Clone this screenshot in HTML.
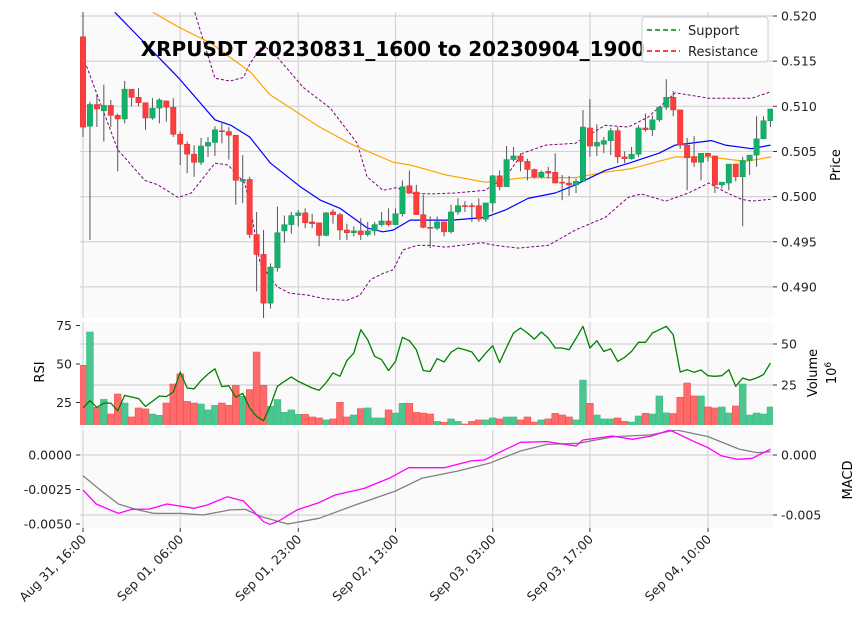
<!DOCTYPE html>
<html><head><meta charset="utf-8">
<style>
body{margin:0;background:#fff;}
svg{display:block;font-family:"DejaVu Sans","Liberation Sans",sans-serif;}
</style></head>
<body>
<svg id="chart" width="864" height="628" viewBox="0 0 864 628" xmlns="http://www.w3.org/2000/svg">
<defs>
<clipPath id="cMain"><rect x="80" y="12" width="693" height="306"/></clipPath>
<clipPath id="cVol"><rect x="80" y="322" width="693" height="103"/></clipPath>
<clipPath id="cMacd"><rect x="80" y="430" width="693" height="98"/></clipPath>
</defs>
<rect x="80" y="12" width="693" height="306" fill="#fafafa"/>
<rect x="80" y="322" width="693" height="103" fill="#fafafa"/>
<rect x="80" y="430" width="693" height="98" fill="#fafafa"/>
<g id="grid"></g>
<g id="marks"></g>
<g id="axes"></g>
<text x="393" y="56" text-anchor="middle" font-size="20" font-weight="bold" fill="#000">XRPUSDT 20230831_1600 to 20230904_1900</text>
<g>
<rect x="642" y="17" width="126" height="45" rx="3" fill="#fff" fill-opacity="0.85" stroke="#ccc"/>
<line x1="647" y1="30" x2="680" y2="30" stroke="green" stroke-width="1.5" stroke-dasharray="5,3"/>
<text x="688" y="35" font-size="13" fill="#222">Support</text>
<line x1="647" y1="51" x2="680" y2="51" stroke="red" stroke-width="1.5" stroke-dasharray="5,3"/>
<text x="688" y="56" font-size="13" fill="#222">Resistance</text>
</g>
<text transform="translate(840,165) rotate(-90)" text-anchor="middle" font-size="13">Price</text>
<text transform="translate(817,373) rotate(-90)" text-anchor="middle" font-size="13">Volume</text>
<text transform="translate(836,373) rotate(-90)" text-anchor="middle" font-size="13">10<tspan dy="-5" font-size="9">6</tspan></text>
<text transform="translate(44,372) rotate(-90)" text-anchor="middle" font-size="13">RSI</text>
<text transform="translate(852,480) rotate(-90)" text-anchor="middle" font-size="13">MACD</text>
</svg>
<script>
const opens=[.5177,.5078,.5102,.5095,.5101,.5090,.5086,.5119,.5110,.5104,.5087,.5098,.5106,.5099,.5069,.5058,.5047,.5038,.5056,.5060,.5073,.5072,.5068,.5017,.5019,.4958,.4936,.4882,.4921,.4962,.4969,.4979,.4982,.4972,.4971,.4957,.4983,.4980,.4963,.4960,.4962,.4958,.4962,.4969,.4973,.4969,.4981,.5012,.5005,.4980,.4966,.4965,.4972,.4961,.4983,.4990,.4990,.4990,.4975,.4993,.5023,.5011,.5041,.5045,.5039,.5030,.5022,.5028,.5027,.5016,.5015,.5013,.5017,.5076,.5056,.5058,.5062,.5073,.5044,.5042,.5047,.5076,.5074,.5085,.5099,.5110,.5096,.5057,.5044,.5038,.5048,.5045,.5013,.5015,.5036,.5022,.5040,.5046,.5064,.5084];
const closes=[.5077,.5102,.5097,.5101,.5090,.5086,.5119,.5110,.5104,.5087,.5098,.5107,.5099,.5069,.5058,.5047,.5038,.5056,.5060,.5074,.5072,.5068,.5018,.5019,.4958,.4936,.4882,.4922,.4960,.4969,.4979,.4982,.4971,.4970,.4957,.4982,.4980,.4963,.4960,.4962,.4958,.4962,.4969,.4973,.4969,.4981,.5011,.5004,.4980,.4966,.4965,.4972,.4961,.4983,.4990,.4989,.4989,.4975,.4993,.5023,.5011,.5041,.5045,.5039,.5030,.5022,.5027,.5026,.5015,.5015,.5013,.5017,.5077,.5056,.5060,.5062,.5073,.5044,.5042,.5047,.5076,.5074,.5085,.5099,.5110,.5096,.5057,.5043,.5038,.5048,.5045,.5013,.5016,.5036,.5022,.5040,.5046,.5064,.5084,.5097];
const highs=[.5225,.5105,.5113,.5124,.5107,.5092,.5128,.5119,.5120,.5103,.5109,.5109,.5105,.5109,.5072,.5061,.5057,.5065,.5066,.5078,.5083,.5077,.5065,.5046,.5022,.4983,.4963,.4926,.4989,.4979,.4983,.4985,.4987,.4981,.4971,.4983,.4986,.4982,.4970,.4967,.4976,.4972,.4972,.4983,.4987,.4987,.5018,.5029,.5013,.5002,.4978,.4978,.4972,.4991,.4998,.4995,.4993,.4998,.4993,.5024,.5029,.5056,.5055,.5048,.5042,.5031,.5029,.5033,.5048,.5024,.5023,.5020,.5096,.5108,.5080,.5066,.5076,.5077,.5050,.5055,.5079,.5092,.5090,.5100,.5130,.5117,.5096,.5065,.5067,.5046,.5046,.5042,.5015,.5035,.5036,.5044,.5042,.5089,.5089,.5096];
const lows=[.5066,.4952,.5077,.5061,.5077,.5028,.5081,.5100,.5100,.5074,.5085,.5081,.5083,.5066,.5035,.5026,.5022,.5035,.5044,.5045,.5059,.5041,.4991,.4993,.4954,.4895,.4865,.4876,.4917,.4949,.4959,.4967,.4965,.4965,.4945,.4956,.4970,.4952,.4952,.4956,.4952,.4956,.4957,.4967,.4967,.4969,.4978,.5004,.4980,.4965,.4943,.4963,.4956,.4959,.4980,.4983,.4972,.4972,.4972,.4983,.5007,.5011,.5039,.5028,.5018,.5020,.5020,.5020,.5015,.4996,.5001,.5004,.5017,.5044,.5045,.5048,.5046,.5037,.5037,.5041,.5044,.5072,.5067,.5083,.5096,.5089,.5053,.5007,.5033,.5018,.5039,.5004,.5009,.5007,.5017,.4967,.5024,.5033,.5065,.5077];
const volumes=[37.0,57.3,11.4,16.2,7.3,19.5,14.0,5.5,11.0,10.4,7.3,6.5,14.0,25.6,31.7,15.0,14.0,13.4,9.8,12.6,14.0,12.6,24.8,18.1,22.2,45.1,24.8,12.0,16.1,8.3,9.8,7.1,7.1,5.5,4.9,3.7,4.3,14.4,5.5,6.7,10.6,11.0,4.9,4.9,9.8,7.9,13.8,13.8,8.3,7.9,7.3,2.8,2.2,4.3,2.8,1.2,2.8,3.7,3.7,4.9,4.3,5.5,5.5,3.7,5.5,2.4,3.7,4.3,7.7,6.7,5.5,3.7,28.0,13.8,6.7,4.3,4.3,4.9,2.8,2.4,6.1,7.7,7.3,18.3,8.0,7.6,17.5,26.2,18.3,18.3,11.6,11.0,11.6,7.9,12.2,25.6,6.7,7.9,7.3,11.6];
const rsiValues=[21.4,26.2,21.9,24.6,24.6,19.7,29.6,28.6,27.5,22.5,25.7,29.2,28.8,31.8,44.8,34.4,33.9,39.2,43.5,46.9,35.3,35.9,28.4,31.0,21.4,16.0,13.2,23.1,35.5,38.7,41.6,38.7,36.6,34.4,32.9,37.7,44.2,42.0,52.2,57.1,72.3,65.8,55.0,52.8,45.7,51.7,67.3,65.1,59.3,45.7,45.2,53.5,51.3,57.6,60.4,59.3,57.8,51.7,57.1,61.9,51.0,60.8,70.1,73.4,70.1,66.2,70.8,66.9,60.4,60.4,59.3,66.6,74.5,60.4,65.1,58.2,59.9,51.7,54.3,58.2,64.1,64.1,70.1,72.3,74.5,69.0,44.8,46.3,44.6,46.1,42.4,42.0,42.4,46.3,35.5,40.9,39.4,40.9,43.1,50.7];
const smaFastIdx=[4.6,8.9,13.7,19,21.3,24,27,31.3,34.2,37,41,43.2,44.7,47.1,50,53.2,57.9,60.8,64.1,68,70.9,75.2,79,82.9,85.3,90.5,92.5,96.3,99];
const smaFastVal=[.5204,.5170,.5132,.5085,.5079,.5066,.5037,.5011,.4996,.4987,.4965,.4961,.4963,.4974,.4974,.4974,.4977,.4985,.4998,.5004,.5013,.5029,.5038,.5048,.5057,.5062,.5057,.5053,.5057];
const smaSlowIdx=[10.1,13.7,18.4,22.3,24.1,26.9,30.3,34.1,38.9,44.7,47.1,50,52.2,57.9,63.7,70.9,75.2,79,85.3,90.1,95.4,99.1];
const smaSlowVal=[.5204,.5188,.5170,.5148,.5138,.5113,.5096,.5077,.5057,.5038,.5035,.5029,.5024,.5016,.5021,.5021,.5027,.5031,.5044,.5044,.5039,.5044];
const bbUpperIdx=[16.1,19,21.2,23.1,24.1,25.9,27.7,31.7,35.6,39.5,40.9,43.2,45.2,46.7,50,53.6,57.9,60.8,63.3,66.6,70.9,72.8,75.2,78.5,81.4,85.3,90.1,96.3,99];
const bbUpperVal=[.5204,.5131,.5128,.5132,.5148,.5168,.5157,.5121,.5098,.5059,.5022,.5007,.5010,.5004,.5003,.5004,.5007,.5021,.5048,.5057,.5059,.5068,.5079,.5077,.5088,.5115,.5109,.5109,.5116];
const bbLowerIdx=[0,5,8.9,10.8,13.7,15.6,19,20.9,23.3,24.1,25.5,28,29.8,32.3,34.6,38,39.9,41.4,43.2,44.7,46.1,48.1,50,52.2,57.5,59.4,62.7,67,68.4,70.9,75.2,78.5,80.4,83.9,87.2,90.1,92.5,94.8,96.3,99];
const bbLowerVal=[.5155,.5052,.5018,.5013,.4999,.5004,.5037,.5035,.5015,.4988,.4926,.4900,.4893,.4891,.4887,.4885,.4891,.4908,.4915,.4919,.4941,.4946,.4946,.4944,.4949,.4946,.4943,.4946,.4952,.4963,.4977,.4999,.5003,.4995,.5004,.5015,.5005,.4997,.4995,.4997];
const macdIdx=[0,1.9,5.1,7,9.6,12.1,16,17.9,20.8,23.1,24.7,26,26.9,28.2,30.8,34,36.3,40.5,44.3,46.9,52,55.9,57.8,59.4,63,66.8,71,72,76.2,79.1,81.9,84.5,88,90,91.9,94.2,96.4,99];
const macdVal=[-2.54,-3.55,-4.23,-3.94,-3.91,-3.55,-3.86,-3.62,-3.02,-3.33,-4.15,-4.83,-5.02,-4.78,-3.98,-3.45,-2.90,-2.42,-1.64,-0.92,-0.92,-0.43,-0.36,0.05,0.92,0.97,0.65,1.09,1.38,1.14,1.38,1.81,0.97,0.53,-0.05,-0.31,-0.24,0.43];
const signalIdx=[0,2.5,5.1,7.6,10.2,14.1,17.3,21.2,23.4,25.7,29.5,34,39.2,45,48.8,54,58.5,63,66.8,71.3,76.5,81.6,85.5,90,94.5,97.1,99];
const signalVal=[-1.50,-2.54,-3.55,-3.94,-4.23,-4.23,-4.35,-3.98,-3.94,-4.47,-5.00,-4.59,-3.62,-2.61,-1.69,-1.16,-0.60,0.29,0.77,0.85,1.33,1.45,1.81,1.33,0.43,0.17,0.24];
const priceTicks=[0.490,0.495,0.500,0.505,0.510,0.515,0.520];
const volTicks=[25,50];
const rsiTicks=[25,50,75];
const macdLeftTicks=[0,-2.5,-5];
const macdRightTicks=[0,-5];
const xTickIdx=[0,14,31,45,59,73,90];
const xTickLabels=["Aug 31, 16:00","Sep 01, 06:00","Sep 01, 23:00","Sep 02, 13:00","Sep 03, 03:00","Sep 03, 17:00","Sep 04, 10:00"];

const NS="http://www.w3.org/2000/svg";
const xOf=i=>83+i*6.944;
const pY=p=>16+(0.520-p)*9030;
const vY=v=>426-v*1.64;
const rY=r=>441-r*1.54;
const mY=m=>455-m*13.8;
const mRY=m=>455-m*12;
function el(tag,attrs,parent){const e=document.createElementNS(NS,tag);for(const k in attrs)e.setAttribute(k,attrs[k]);parent.appendChild(e);return e;}
const grid=document.getElementById('grid'),marks=document.getElementById('marks'),axes=document.getElementById('axes');

priceTicks.forEach(p=>{const l=el('line',{x1:80,x2:773,y1:pY(p),y2:pY(p),stroke:'#d4d4d4','stroke-width':1.2},grid);

});
volTicks.forEach(v=>{const l=el('line',{x1:80,x2:773,y1:vY(v),y2:vY(v),stroke:'#d4d4d4','stroke-width':1.2},grid);

});
macdRightTicks.forEach(v=>{const l=el('line',{x1:80,x2:773,y1:mRY(v),y2:mRY(v),stroke:'#d4d4d4','stroke-width':1.2},grid);

});
xTickIdx.forEach(i=>{[[12,318],[322,425],[430,528]].forEach(r=>{const l=el('line',{x1:xOf(i),x2:xOf(i),y1:r[0],y2:r[1],stroke:'#d4d4d4','stroke-width':1.2},grid);

});});

function poly(idx,val,yf,color,dash,clip,name,w){const pts=idx.map((d,k)=>xOf(d).toFixed(1)+','+yf(val[k]).toFixed(1)).join(' ');
const pl=el('polyline',{points:pts,fill:'none',stroke:color,'stroke-width':w||1.2,'stroke-linejoin':'round','clip-path':'url(#'+clip+')'},marks);
if(dash)pl.setAttribute('stroke-dasharray',dash);

}

volumes.forEach((v,i)=>{const up=closes[i]>=opens[i];
const b=el('rect',{x:xOf(i)-3.4,y:vY(v),width:6.8,height:426-vY(v),fill:up?'#4cc690':'#ff6b6b',stroke:up?'#3dbb82':'#f05050','stroke-width':0.6,'clip-path':'url(#cVol)'},marks);

});

poly(rsiValues.map((_,i)=>i),rsiValues,rY,'green',null,'cVol','rsi-line',1.3);

poly(bbUpperIdx,bbUpperVal,pY,'purple','3,2','cMain','bollinger-upper',1);
poly(bbLowerIdx,bbLowerVal,pY,'purple','3,2','cMain','bollinger-lower',1);
poly(smaSlowIdx,smaSlowVal,pY,'orange',null,'cMain','sma-slow-line',1.2);
poly(smaFastIdx,smaFastVal,pY,'blue',null,'cMain','sma-fast-line',1.2);

opens.forEach((o,i)=>{const c=closes[i],up=c>=o,x=xOf(i);
const hi=Math.max(highs[i],o,c),lo=Math.min(lows[i],o,c);
const w=el('line',{x1:x,x2:x,y1:pY(hi),y2:pY(lo),stroke:'#555','stroke-width':1,'clip-path':'url(#cMain)'},marks);


const top=pY(Math.max(o,c)),h=Math.max(1,Math.abs(pY(o)-pY(c)));
const b=el('rect',{x:x-2.7,y:top,width:5.4,height:h,fill:up?'#15b06c':'#ff3d3d',stroke:up?'#0e9a5c':'#d93030','stroke-width':0.5,'clip-path':'url(#cMain)'},marks);

});

poly(signalIdx,signalVal,mY,'gray',null,'cMacd','macd-signal-line',1.3);
poly(macdIdx,macdVal,mY,'magenta',null,'cMacd','macd-line',1.3);

function txt(x,y,s,anchor,name,parent,size){const t=el('text',{x:x,y:y,'text-anchor':anchor,'font-size':size||12.5,fill:'#222'},parent||axes);t.textContent=s;

return t;}
function tick(x1,x2,y,name){const l=el('line',{x1:x1,x2:x2,y1:y,y2:y,stroke:'#333','stroke-width':1},axes);

}
priceTicks.forEach(p=>{tick(773,777,pY(p),'price-tick');txt(781,pY(p)+4.5,p.toFixed(3),'start','price-tick-label');});
volTicks.forEach(v=>{tick(773,777,vY(v),'volume-tick');txt(781,vY(v)+4.5,String(v),'start','volume-tick-label');});
rsiTicks.forEach(r=>{tick(76,80,rY(r),'rsi-tick');txt(72,rY(r)+4.5,String(r),'end','rsi-tick-label');});
macdLeftTicks.forEach(m=>{tick(76,80,mY(m),'macd-left-tick');txt(72,mY(m)+4.5,(m/1000).toFixed(4),'end','macd-left-tick-label');});
macdRightTicks.forEach(m=>{tick(773,777,mRY(m),'macd-right-tick');txt(781,mRY(m)+4.5,(m/1000).toFixed(3),'start','macd-right-tick-label');});
xTickIdx.forEach((i,k)=>{const x=xOf(i);
const l=el('line',{x1:x,x2:x,y1:528,y2:532,stroke:'#333','stroke-width':1},axes);


const t=txt(0,0,xTickLabels[k],'end','x-tick-label',axes,12.5);
t.setAttribute('transform','translate('+(x+4)+',540) rotate(-45)');});
</script>
</body></html>
